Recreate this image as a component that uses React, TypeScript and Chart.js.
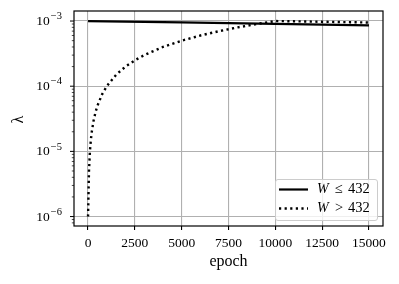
import React, { useEffect, useRef } from "react";
import { Chart, registerables } from "chart.js";
Chart.register(...registerables);

const solidEpochs = [0, 5000, 10000, 15000];
const solidValues = [1.0e-3, 0.952e-3, 0.905e-3, 0.86e-3];
const dottedEpochs = [0, 50, 100, 150, 200, 300, 400, 500, 750, 1000, 1500, 2000, 2500, 3000, 4000, 5000, 6000, 7000, 8000, 9000, 10000, 11000, 12000, 13000, 14000, 15000];
const dottedValues = [1e-6, 5e-6, 1e-5, 1.5e-5, 2e-5, 3e-5, 4e-5, 5e-5, 7.5e-5, 1e-4, 1.5e-4, 2e-4, 2.5e-4, 3e-4, 4e-4, 5e-4, 6e-4, 7e-4, 8e-4, 9e-4, 1.0e-3, 0.99e-3, 0.98e-3, 0.97e-3, 0.96e-3, 0.95e-3];
const seriesNames = ["W", "W"];
const seriesSymbols = ["≤", ">"];
const seriesBounds = ["432", "432"];
const xTickValues = [0, 2500, 5000, 7500, 10000, 12500, 15000];
const yExponents = [-6, -5, -4, -3];
const xTitle = "epoch";
const yTitle = "λ";

const FONT = "'Liberation Serif', 'DejaVu Serif', serif";
const DOT_DASH = [2.2, 3.4];

const overlay = {
  id: "overlay",
  afterDraw(chart: any) {
    const ctx = chart.ctx;
    const { left, right, top, bottom } = chart.chartArea;
    const y = chart.scales.y;
    ctx.save();
    ctx.strokeStyle = "#000";
    ctx.fillStyle = "#000";
    for (let i = 0; i < yExponents.length; i++) {
      const e = yExponents[i];
      const py = y.getPixelForValue(Math.pow(10, e));
      ctx.lineWidth = 1;
      ctx.beginPath();
      ctx.moveTo(left - 4, py);
      ctx.lineTo(left, py);
      ctx.stroke();
      const lx = left - 12;
      ctx.font = `10.5px ${FONT}`;
      ctx.textBaseline = "middle";
      ctx.textAlign = "right";
      const expText = "−" + String(-e);
      ctx.fillText(expText, lx, py - 4.5);
      const ew = ctx.measureText(expText).width;
      ctx.font = `13.5px ${FONT}`;
      ctx.fillText("10", lx - ew - 1, py + 0.5);
    }
    ctx.lineWidth = 0.7;
    for (let e = -7; e <= -3; e++) {
      for (let m = 2; m <= 9; m++) {
        const v = m * Math.pow(10, e);
        if (v < y.min || v > y.max) continue;
        const py = y.getPixelForValue(v);
        ctx.beginPath();
        ctx.moveTo(left - 2.2, py);
        ctx.lineTo(left, py);
        ctx.stroke();
      }
    }
    ctx.lineWidth = 1.2;
    ctx.strokeRect(left, top, right - left, bottom - top);
    ctx.font = `16px ${FONT}`;
    ctx.textAlign = "center";
    ctx.textBaseline = "alphabetic";
    ctx.fillText(xTitle, (left + right) / 2, 266);
    ctx.save();
    ctx.translate(23, (top + bottom) / 2 + 1);
    ctx.rotate(-Math.PI / 2);
    ctx.fillText(yTitle, 0, 0);
    ctx.restore();
    // legend
    const bx = 275, by = 179, bw = 102, bh = 41;
    ctx.fillStyle = "rgba(255,255,255,0.8)";
    ctx.strokeStyle = "#cccccc";
    ctx.lineWidth = 1;
    ctx.beginPath();
    (ctx as any).roundRect(bx + 0.5, by + 0.5, bw, bh, 2.5);
    ctx.fill();
    ctx.stroke();
    const rows = [189.5, 208.5];
    chart.data.datasets.forEach((ds: any, i: number) => {
      const ry = rows[i];
      ctx.strokeStyle = "#000";
      ctx.lineWidth = ds.borderWidth;
      ctx.setLineDash(ds.borderDash || []);
      ctx.beginPath();
      ctx.moveTo(279, ry);
      ctx.lineTo(308, ry);
      ctx.stroke();
      ctx.setLineDash([]);
      ctx.fillStyle = "#000";
      ctx.textAlign = "left";
      ctx.textBaseline = "middle";
      ctx.font = `italic 14px ${FONT}`;
      ctx.fillText(seriesNames[i], 317, ry);
      ctx.font = `14.5px ${FONT}`;
      ctx.fillText(seriesSymbols[i], 335, ry);
      ctx.fillText(seriesBounds[i], 348, ry);
    });
    ctx.restore();
  },
};

export default function App() {
  const ref = useRef<HTMLCanvasElement>(null);
  useEffect(() => {
    const chart = new Chart(ref.current!, {
      type: "line",
      data: {
        datasets: [
          {
            label: seriesNames[0] + " " + seriesSymbols[0] + " " + seriesBounds[0],
            data: solidEpochs.map((x, i) => ({ x, y: solidValues[i] })),
            borderColor: "#000",
            borderWidth: 2.2,
            pointRadius: 0,
            fill: false,
          },
          {
            label: seriesNames[1] + " " + seriesSymbols[1] + " " + seriesBounds[1],
            data: dottedEpochs.map((x, i) => ({ x, y: dottedValues[i] })),
            borderColor: "#000",
            borderWidth: 2.4,
            borderDash: DOT_DASH,
            pointRadius: 0,
            fill: false,
          },
        ],
      },
      options: {
        animation: false,
        responsive: false,
        layout: { padding: { left: 0, top: 11, right: 16, bottom: 0 } },
        plugins: { legend: { display: false }, tooltip: { enabled: false } },
        scales: {
          x: {
            type: "linear",
            min: -750,
            max: 15750,
            afterBuildTicks: (s: any) => {
              s.ticks = xTickValues.map((v) => ({ value: v }));
            },
            afterFit: (s: any) => {
              s.height = 58;
            },
            border: { display: false },
            grid: { color: "#b0b0b0", lineWidth: 1.1, tickColor: "#000", tickLength: 4, drawTicks: true },
            ticks: {
              color: "#000",
              font: { family: FONT, size: 13.5 },
              padding: 5,
              maxRotation: 0,
              autoSkip: false,
              callback: (v: any) => String(v),
            },
          },
          y: {
            type: "logarithmic",
            min: Math.pow(10, -6.145),
            max: Math.pow(10, -2.846),
            afterBuildTicks: (s: any) => {
              s.ticks = yExponents.map((e) => ({ value: Math.pow(10, e) }));
            },
            afterFit: (s: any) => {
              s.width = 74;
            },
            border: { display: false },
            grid: { color: "#b0b0b0", lineWidth: 1.1, drawTicks: false },
            ticks: { display: false },
          },
        },
      } as any,
      plugins: [overlay],
    });
    return () => chart.destroy();
  }, []);
  return (
    <div style={{ position: "absolute", left: 0, top: 0, width: 399, height: 284, background: "#fff" }}>
      <canvas ref={ref} width={399} height={284} style={{ width: 399, height: 284 }} />
    </div>
  );
}
